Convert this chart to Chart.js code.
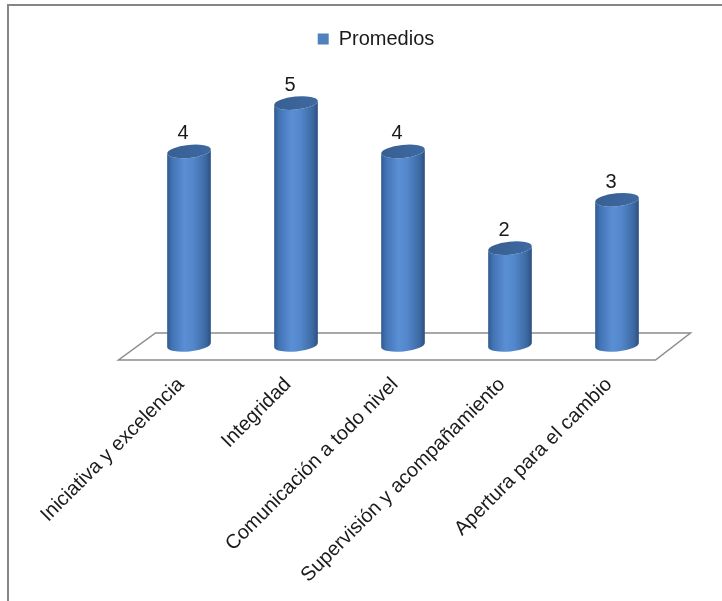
<!DOCTYPE html>
<html lang="es">
<head>
  <meta charset="UTF-8">
  <title>Promedios</title>
  <script src="https://cdn.jsdelivr.net/npm/chart.js"></script>
  <style>
    html, body { margin: 0; padding: 0; background: #fff; }
    #wrap { width: 722px; height: 601px; position: relative; }
  </style>
</head>
<body>
  <div id="wrap"><canvas id="chart" width="722" height="601"></canvas></div>

  <script>
    // datos del gráfico
    const categorias = [
      "Iniciativa y excelencia",
      "Integridad",
      "Comunicación a todo nivel",
      "Supervisión y acompañamiento",
      "Apertura para el cambio"
    ];
    const promedios = [4, 5, 4, 2, 3];
    const serieNombre = "Promedios";

    const fuente = "'Liberation Sans', Arial, sans-serif";

    // marco, piso 3D y cilindros
    const cilindros = {
      id: "cilindros",
      beforeDraw(chart) {
        const ctx = chart.ctx;
        ctx.save();
        ctx.strokeStyle = "#868686";
        ctx.lineWidth = 2;
        ctx.beginPath();
        ctx.moveTo(8, 601);
        ctx.lineTo(8, 5);
        ctx.lineTo(722, 5);
        ctx.stroke();
        ctx.restore();
      },
      beforeDatasetsDraw(chart) {
        const a = chart.chartArea, ctx = chart.ctx;
        const b = a.bottom;
        ctx.save();
        ctx.strokeStyle = "#8c8c8c";
        ctx.lineWidth = 1.5;
        ctx.beginPath();
        ctx.moveTo(a.left + 20, b - 12);
        ctx.lineTo(a.right + 20, b - 12);
        ctx.lineTo(a.right - 15, b + 15);
        ctx.lineTo(a.left - 17, b + 15);
        ctx.closePath();
        ctx.stroke();
        ctx.restore();
      },
      beforeDatasetDraw(chart, args) {
        const ctx = chart.ctx;
        const meta = args.meta;
        meta.data.forEach((el, i) => {
          const x = el.x, top = el.y, base = el.base;
          const rx = el.width / 2, ry = 6.5, rot = -0.1;
          const cs = Math.cos(rot), sn = Math.sin(rot);
          const l = x - rx, r = x + rx;
          ctx.save();
          const g = ctx.createLinearGradient(l, 0, r, 0);
          g.addColorStop(0, "#315a90");
          g.addColorStop(0.12, "#4274b5");
          g.addColorStop(0.4, "#5b8fd4");
          g.addColorStop(0.6, "#5387cb");
          g.addColorStop(0.88, "#3c69a2");
          g.addColorStop(1, "#2c4f80");
          ctx.beginPath();
          ctx.moveTo(x - rx * cs, top - rx * sn);
          ctx.lineTo(x - rx * cs, base - rx * sn);
          ctx.ellipse(x, base, rx, ry, rot, Math.PI, 0, true);
          ctx.lineTo(x + rx * cs, top + rx * sn);
          ctx.ellipse(x, top, rx, ry, rot, 0, Math.PI, false);
          ctx.closePath();
          ctx.fillStyle = g;
          ctx.fill();

          const gt = ctx.createLinearGradient(l, top, r, top);
          gt.addColorStop(0, "#375f92");
          gt.addColorStop(1, "#3e6aa2");
          ctx.beginPath();
          ctx.ellipse(x, top, rx, ry, rot, 0, Math.PI * 2);
          ctx.fillStyle = gt;
          ctx.fill();

          ctx.fillStyle = "#1a1a1a";
          ctx.font = "20px " + fuente;
          ctx.textAlign = "center";
          ctx.textBaseline = "bottom";
          ctx.fillText(String(promedios[i]), x - 6, top - ry - 1);
          ctx.restore();
        });
        return false;
      }
    };

    new Chart(document.getElementById("chart"), {
      type: "bar",
      data: {
        labels: categorias,
        datasets: [{
          label: serieNombre,
          data: promedios,
          backgroundColor: "#4f81bd",
          barPercentage: 0.82,
          categoryPercentage: 0.5
        }]
      },
      options: {
        responsive: false,
        animation: false,
        layout: { padding: { left: 30, right: 0, top: 23, bottom: 0 } },
        plugins: {
          legend: {
            position: "top",
            labels: {
              boxWidth: 11,
              boxHeight: 11,
              padding: 6,
              color: "#1a1a1a",
              font: { family: fuente, size: 20 }
            }
          },
          tooltip: { enabled: false }
        },
        scales: {
          x: {
            grid: { display: false, drawTicks: false },
            border: { display: false },
            ticks: {
              maxRotation: 45,
              minRotation: 45,
              padding: 28,
              labelOffset: -8,
              color: "#1a1a1a",
              font: { family: fuente, size: 20 }
            },
            afterFit(s) {
              s.height = 256;
              s.paddingLeft = 0;
              s.paddingRight = 0;
            }
          },
          y: {
            min: 0,
            max: 5.91,
            grid: { display: false, drawTicks: false },
            border: { display: false },
            ticks: { display: false },
            afterFit(s) { s.width = 105.5; }
          },
          y2: {
            position: "right",
            grid: { display: false, drawTicks: false },
            border: { display: false },
            ticks: { display: false },
            afterFit(s) { s.width = 51.5; }
          }
        }
      },
      plugins: [cilindros]
    });
  </script>
</body>
</html>
